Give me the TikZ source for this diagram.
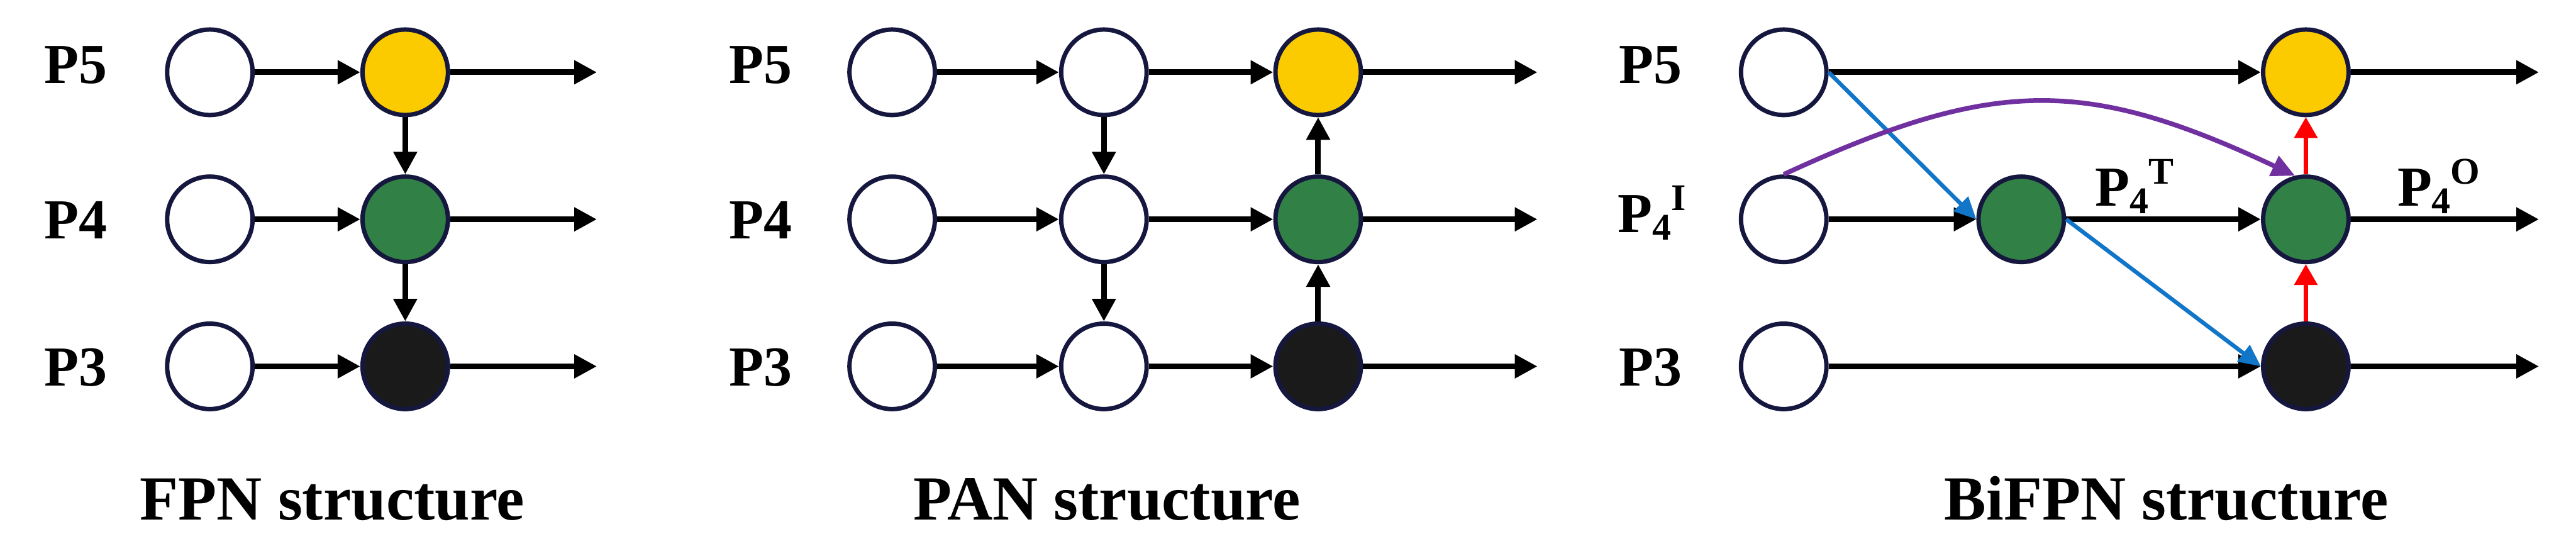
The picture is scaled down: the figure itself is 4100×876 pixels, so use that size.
\documentclass[tikz,border=0pt]{standalone}
\usepackage{fontspec}
\setmainfont{Liberation Serif}
\usetikzlibrary{arrows.meta}
\definecolor{outl}{HTML}{15173F}
\definecolor{yel}{HTML}{FBCB00}
\definecolor{grn}{HTML}{318046}
\definecolor{blk}{HTML}{1A1A1A}
\definecolor{blu}{HTML}{1276C8}
\definecolor{pur}{HTML}{7030A0}
\definecolor{rd}{HTML}{FF0000}
\newcommand{\mysubfs}{\fontsize{17.07pt}{20pt}\selectfont}
\begin{document}
\begin{tikzpicture}[x=0.1mm,y=-0.1mm,
  nd/.style={circle, draw=outl, line width=0.7mm, minimum size=13.6mm, inner sep=0pt, fill=white},
  arr/.style={line width=0.9mm, -{Triangle[length=3.6mm,width=3.6mm]}},
  barr/.style={draw=blu, line width=0.65mm, -{Triangle[length=3.5mm,width=3.2mm]}},
  rarr/.style={draw=rd, line width=0.65mm, -{Triangle[length=3.3mm,width=3.6mm]}},
  parr/.style={draw=pur, line width=0.75mm, -{Triangle[length=3.7mm,width=3.4mm]}},
  lbl/.style={font=\fontsize{25.6pt}{30pt}\selectfont\bfseries, anchor=base west, inner sep=0pt},
  ttl/.style={font=\fontsize{28.45pt}{34pt}\selectfont\bfseries, anchor=base, inner sep=0pt}]
\useasboundingbox (0,0) rectangle (4100,876);

% ---------------- FPN ----------------
\node[nd] (fa5) at (334,115) {};
\node[nd] (fa4) at (334,349) {};
\node[nd] (fa3) at (334,583) {};
\node[nd,fill=yel] (fb5) at (645,115) {};
\node[nd,fill=grn] (fb4) at (645,349) {};
\node[nd,fill=blk] (fb3) at (645,583) {};
\coordinate (fe5) at (950,115);
\coordinate (fe4) at (950,349);
\coordinate (fe3) at (950,583);
\draw[arr] (fa5) -- (fb5);
\draw[arr] (fa4) -- (fb4);
\draw[arr] (fa3) -- (fb3);
\draw[arr] (fb5) -- (fe5);
\draw[arr] (fb4) -- (fe4);
\draw[arr] (fb3) -- (fe3);
\draw[arr] (fb5) -- (fb4);
\draw[arr] (fb4) -- (fb3);
\node[lbl] (fl5) at (70,133) {P5};
\node[lbl] (fl4) at (70,380) {P4};
\node[lbl] (fl3) at (70,614) {P3};
\node[ttl] (ft) at (529,827) {FPN structure};

% ---------------- PAN ----------------
\node[nd] (pa5) at (1420,115) {};
\node[nd] (pa4) at (1420,349) {};
\node[nd] (pa3) at (1420,583) {};
\node[nd] (pb5) at (1757,115) {};
\node[nd] (pb4) at (1757,349) {};
\node[nd] (pb3) at (1757,583) {};
\node[nd,fill=yel] (pc5) at (2098,115) {};
\node[nd,fill=grn] (pc4) at (2098,349) {};
\node[nd,fill=blk] (pc3) at (2098,583) {};
\coordinate (pe5) at (2447,115);
\coordinate (pe4) at (2447,349);
\coordinate (pe3) at (2447,583);
\draw[arr] (pa5) -- (pb5);
\draw[arr] (pa4) -- (pb4);
\draw[arr] (pa3) -- (pb3);
\draw[arr] (pb5) -- (pc5);
\draw[arr] (pb4) -- (pc4);
\draw[arr] (pb3) -- (pc3);
\draw[arr] (pc5) -- (pe5);
\draw[arr] (pc4) -- (pe4);
\draw[arr] (pc3) -- (pe3);
\draw[arr] (pb5) -- (pb4);
\draw[arr] (pb4) -- (pb3);
\draw[arr] (pc3) -- (pc4);
\draw[arr] (pc4) -- (pc5);
\node[lbl] (pl5) at (1160,133) {P5};
\node[lbl] (pl4) at (1160,380) {P4};
\node[lbl] (pl3) at (1160,614) {P3};
\node[ttl] (pt) at (1762,827) {PAN structure};

% ---------------- BiFPN ----------------
\node[nd] (ba5) at (2839,115) {};
\node[nd] (ba4) at (2839,349) {};
\node[nd] (ba3) at (2839,583) {};
\node[nd,fill=grn] (bb4) at (3217,349) {};
\node[nd,fill=yel] (bc5) at (3670,115) {};
\node[nd,fill=grn] (bc4) at (3670,349) {};
\node[nd,fill=blk] (bc3) at (3670,583) {};
\coordinate (be5) at (4041,115);
\coordinate (be4) at (4041,349);
\coordinate (be3) at (4041,583);
\draw[arr] (ba5) -- (bc5);
\draw[arr] (ba4) -- (bb4);
\draw[arr] (bb4) -- (bc4);
\draw[arr] (ba3) -- (bc3);
\draw[arr] (bc5) -- (be5);
\draw[arr] (bc4) -- (be4);
\draw[arr] (bc3) -- (be3);
\draw[barr] (ba5.east) -- (bb4.west);
\draw[barr] (bb4.east) -- (bc3.west);
\draw[rarr] (bc3) -- (bc4);
\draw[rarr] (bc4) -- (bc5);
\draw[parr] (ba4.north) .. controls (3174,123) and (3319,123) .. (bc4.104);
\node[lbl] (bl5) at (2576,133) {P5};
\node[lbl] (bl4) at (2574,370) {P\raisebox{-1.2mm}{\mysubfs 4}\raisebox{3.5mm}{\mysubfs I}};
\node[lbl] (bl3) at (2576,614) {P3};
\node[lbl] (blt) at (3334,328) {P\raisebox{-1.2mm}{\mysubfs 4}\raisebox{3.5mm}{\mysubfs T}};
\node[lbl] (blo) at (3815,328) {P\raisebox{-1.2mm}{\mysubfs 4}\raisebox{3.5mm}{\mysubfs O}};
\node[ttl] (bt) at (3448,827) {BiFPN structure};
\end{tikzpicture}
\end{document}
